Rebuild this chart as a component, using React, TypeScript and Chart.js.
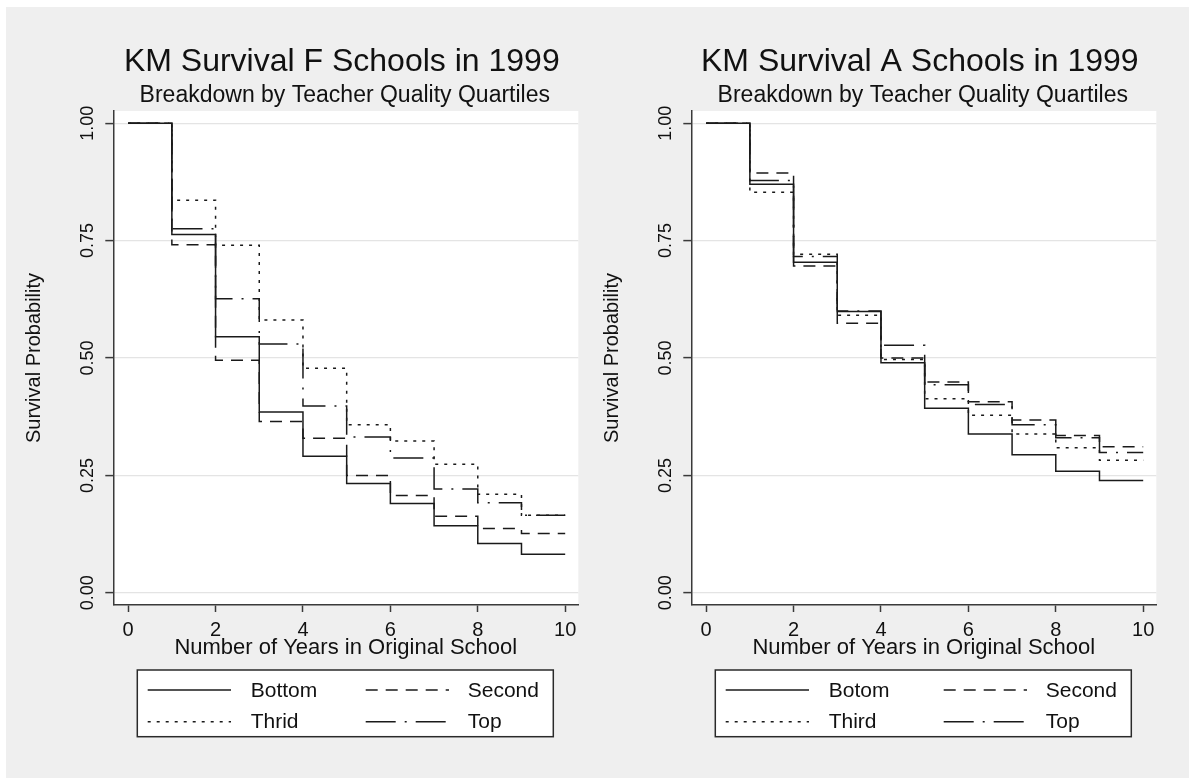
import React, { useEffect, useRef } from "react";
import { Chart, registerables } from "chart.js";

Chart.register(...registerables);
Chart.defaults.font.family = '"Liberation Sans", Arial, sans-serif';
Chart.defaults.color = "#111";

// x positions (years) at which each step starts; the last one closes the final step
const years = [0, 1, 2, 3, 4, 5, 6, 7, 8, 9, 10];
const xTickValues = [0, 2, 4, 6, 8, 10];
const yTickValues = [0, 0.25, 0.5, 0.75, 1];
const yTickLabels = ["0.00", "0.25", "0.50", "0.75", "1.00"];

// F schools: survival on [k, k+1)
const fNames = ["Bottom", "Second", "Thrid", "Top"];
const fBottom = [1.0, 0.763, 0.545, 0.385, 0.291, 0.233, 0.19, 0.143, 0.105, 0.082];
const fSecond = [1.0, 0.741, 0.495, 0.365, 0.329, 0.25, 0.207, 0.163, 0.137, 0.126];
const fThird = [1.0, 0.836, 0.74, 0.581, 0.478, 0.358, 0.323, 0.274, 0.21, 0.165];
const fTop = [1.0, 0.775, 0.626, 0.53, 0.398, 0.332, 0.287, 0.221, 0.192, 0.165];

// A schools
const aNames = ["Botom", "Second", "Third", "Top"];
const aBottom = [1.0, 0.87, 0.704, 0.599, 0.49, 0.393, 0.338, 0.294, 0.259, 0.239];
const aSecond = [1.0, 0.894, 0.696, 0.574, 0.5, 0.449, 0.407, 0.368, 0.335, 0.311];
const aThird = [1.0, 0.853, 0.721, 0.591, 0.497, 0.413, 0.378, 0.338, 0.309, 0.282];
const aTop = [1.0, 0.878, 0.716, 0.6, 0.527, 0.443, 0.401, 0.358, 0.33, 0.299];

const dashes: number[][] = [[], [12, 8], [3, 6], [30, 9, 2, 9]];
const LINE = "#1a1a1a";
const AXIS = "#3a3a3a";
const FONT = '"Liberation Sans", Arial, sans-serif';

// point k carries the value holding on [k, k+1); the last point closes the final step
function toPoints(vals: number[]) {
  return years.map((x, i) => ({ x, y: vals[Math.min(i, vals.length - 1)] }));
}

type Props = {
  title: string;
  subtitle: string;
  names: string[];
  series: number[][];
  left: number;
  width: number;
};

function KMChart({ title, subtitle, names, series, left, width }: Props) {
  const ref = useRef<HTMLCanvasElement>(null);
  useEffect(() => {
    const areaRight = 572.3;
    const decor = {
      id: "decor",
      beforeDraw(chart: any) {
        const { ctx, chartArea: ca } = chart;
        ctx.save();
        ctx.fillStyle = "#ffffff";
        ctx.fillRect(ca.left, ca.top, ca.right - ca.left, ca.bottom - ca.top);
        ctx.restore();
      },
      afterDraw(chart: any) {
        const { ctx, chartArea: ca } = chart;
        const cx = (ca.left + ca.right) / 2;
        ctx.save();
        ctx.fillStyle = "#111";
        ctx.textAlign = "center";
        ctx.textBaseline = "alphabetic";
        ctx.font = `32px ${FONT}`;
        ctx.fillText(title, cx - 4, 64);
        ctx.font = `23px ${FONT}`;
        ctx.fillText(subtitle, cx - 1, 94.7);

        // rotated y tick labels
        const ys = chart.scales.y;
        ctx.font = `18px ${FONT}`;
        yTickValues.forEach((v, i) => {
          const py = ys.getPixelForValue(v);
          ctx.save();
          ctx.translate(ca.left - 20.6, py);
          ctx.rotate(-Math.PI / 2);
          ctx.textAlign = "center";
          ctx.textBaseline = "alphabetic";
          ctx.fillText(yTickLabels[i], 0, 0);
          ctx.restore();
        });

        // legend box
        const bx = ca.left + 24;
        const bw = ca.right - ca.left - 49;
        const by = ca.bottom + 65;
        const bh = 66.7;
        ctx.fillStyle = "#ffffff";
        ctx.fillRect(bx, by, bw, bh);
        ctx.strokeStyle = "#2a2a2a";
        ctx.lineWidth = 1.5;
        ctx.setLineDash([]);
        ctx.strokeRect(bx, by, bw, bh);
        const rows = [by + 20, by + 51.7];
        const cols = [
          { l0: 10.4, l1: 93.7, t: 113.4 },
          { l0: 228.4, l1: 311.7, t: 330.4 },
        ];
        names.forEach((name, i) => {
          const r = rows[Math.floor(i / 2)];
          const c = cols[i % 2];
          ctx.strokeStyle = LINE;
          ctx.lineWidth = 1.5;
          ctx.setLineDash(dashes[i]);
          ctx.beginPath();
          ctx.moveTo(bx + c.l0, r);
          ctx.lineTo(bx + c.l1, r);
          ctx.stroke();
          ctx.setLineDash([]);
          ctx.fillStyle = "#111";
          ctx.font = `21px ${FONT}`;
          ctx.textAlign = "left";
          ctx.textBaseline = "middle";
          ctx.fillText(name, bx + c.t, r + 1);
        });
        ctx.restore();
      },
    };

    const chart = new Chart(ref.current!, {
      type: "line",
      data: {
        datasets: series.map((vals, i) => ({
          label: names[i],
          data: toPoints(vals),
          borderColor: LINE,
          borderWidth: 1.5,
          borderDash: dashes[i],
          pointRadius: 0,
          fill: false,
          stepped: "before" as const,
          tension: 0,
        })),
      },
      options: {
        responsive: false,
        animation: false,
        events: [],
        layout: { padding: { left: 0, top: 104, right: width - areaRight, bottom: 113 } },
        plugins: {
          legend: { display: false },
          tooltip: { enabled: false },
          title: { display: false },
        },
        scales: {
          x: {
            type: "linear",
            min: -0.34,
            max: 10.3,
            afterBuildTicks: (s: any) => {
              s.ticks = xTickValues.map((v) => ({ value: v }));
            },
            afterFit: (s: any) => {
              s.height = 60;
            },
            grid: { drawOnChartArea: false, drawTicks: true, tickLength: 7, tickColor: AXIS, tickWidth: 1.5 },
            border: { display: true, color: AXIS, width: 1.5 },
            ticks: { font: { size: 20 }, color: "#111", padding: 6, maxRotation: 0 },
            title: {
              display: true,
              text: "Number of Years in Original School",
              font: { size: 22 },
              color: "#111",
              padding: { top: 0, bottom: 4 },
            },
          },
          y: {
            type: "linear",
            min: -0.026,
            max: 1.026,
            afterBuildTicks: (s: any) => {
              s.ticks = yTickValues.map((v) => ({ value: v }));
            },
            afterFit: (s: any) => {
              s.width = 107.3;
            },
            grid: { color: "#e4e4e4", lineWidth: 1.2, drawTicks: true, tickLength: 8, tickColor: AXIS, tickWidth: 1.5 },
            border: { display: true, color: AXIS, width: 1.5 },
            ticks: { display: false },
            title: {
              display: true,
              text: "Survival Probability",
              font: { size: 20 },
              color: "#111",
              padding: { top: 16, bottom: 0 },
            },
          },
        },
      },
      plugins: [decor],
    } as any);
    return () => chart.destroy();
  }, []);
  return (
    <canvas
      ref={ref}
      width={width}
      height={771}
      style={{ position: "absolute", left, top: 7, width, height: 771 }}
    />
  );
}

export default function App() {
  return (
    <div
      style={{
        position: "absolute",
        left: 0,
        top: 0,
        width: 1189,
        height: 778,
        background: "#ffffff",
        overflow: "hidden",
      }}
    >
      <div style={{ position: "absolute", left: 6, top: 7, width: 1183, height: 771, background: "#efefef" }} />
      <KMChart
        title="KM Survival F Schools in 1999"
        subtitle="Breakdown by Teacher Quality Quartiles"
        names={fNames}
        series={[fBottom, fSecond, fThird, fTop]}
        left={6}
        width={578}
      />
      <KMChart
        title="KM Survival A Schools in 1999"
        subtitle="Breakdown by Teacher Quality Quartiles"
        names={aNames}
        series={[aBottom, aSecond, aThird, aTop]}
        left={584}
        width={605}
      />
    </div>
  );
}
